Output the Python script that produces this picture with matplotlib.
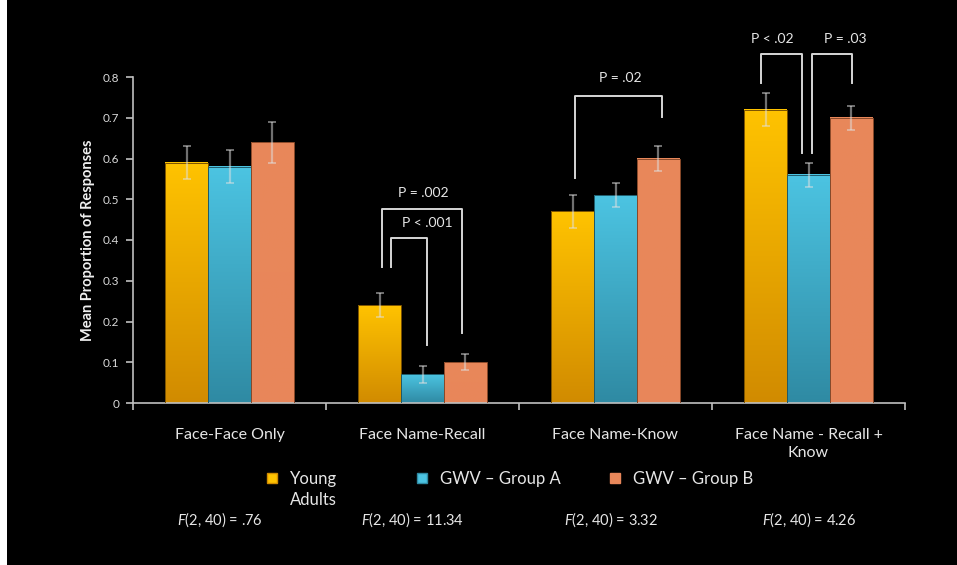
import numpy as np
import matplotlib
matplotlib.use("Agg")
import matplotlib.pyplot as plt
from matplotlib.colors import LinearSegmentedColormap
from matplotlib.patches import Patch, Rectangle

plt.rcParams['font.family'] = ['Lato', 'DejaVu Sans']
plt.rcParams['mathtext.fontset'] = 'custom'
plt.rcParams['mathtext.rm'] = 'Lato'
plt.rcParams['mathtext.it'] = 'Lato:italic'

# ---- data ----
categories = ["Face-Face Only", "Face Name-Recall", "Face Name-Know", "Face Name - Recall +\nKnow"]
series_names = ["Young", "GWV \u2013 Group A", "GWV \u2013 Group B"]
series_name_cont = "Adults"
young = [0.59, 0.24, 0.47, 0.72]
young_err = [0.04, 0.03, 0.04, 0.04]
group_a = [0.58, 0.07, 0.51, 0.56]
group_a_err = [0.04, 0.02, 0.03, 0.03]
group_b = [0.64, 0.10, 0.60, 0.70]
group_b_err = [0.05, 0.02, 0.03, 0.03]
f_stats = ["$\\mathit{F}$(2, 40) = .76", "$\\mathit{F}$(2, 40) = 11.34",
           "$\\mathit{F}$(2, 40) = 3.32", "$\\mathit{F}$(2, 40) = 4.26"]
yticks = [0, 0.1, 0.2, 0.3, 0.4, 0.5, 0.6, 0.7, 0.8]
ytick_labels = ["0", "0.1", "0.2", "0.3", "0.4", "0.5", "0.6", "0.7", "0.8"]

# significance brackets: (x_left, y_left_end, x_right, y_right_end, y_top, label, label_x, label_y)
brackets = [
    (0.790, 0.334, 1.205, 0.172, 0.476, "P = .002", 1.002, 0.515),
    (0.837, 0.334, 1.023, 0.142, 0.405, "P < .001", 1.023, 0.442),
    (1.790, 0.552, 2.241, 0.702, 0.753, "P = .02", 2.023, 0.797),
    (2.754, 0.785, 2.966, 0.613, 0.856, "P < .02", 2.811, 0.893),
    (3.018, 0.613, 3.225, 0.785, 0.856, "P = .03", 3.189, 0.893),
]

top_colors = ["#FFC300", "#4CC4E2", "#E9885A"]
bot_colors = ["#D18B00", "#2F8AA3", "#E8865A"]
edge_colors = ["#7a5200", "#1f5b6b", "#8a4a2a"]

W, H = 957, 565
fig = plt.figure(figsize=(W / 100, H / 100), dpi=100, facecolor="black")
fig.patches.append(Rectangle((0, 0), 7 / W, 1, transform=fig.transFigure,
                             facecolor="white", edgecolor="none", zorder=10))

ax = fig.add_axes([133 / W, 1 - 403 / H, (905 - 133) / W, (403 - 77) / H])
ax.set_facecolor("black")

x = np.arange(len(categories))
bw = 0.222
all_vals = [young, group_a, group_b]
all_errs = [young_err, group_a_err, group_b_err]
offsets = [-bw, 0, bw]

grad = np.linspace(1, 0, 256).reshape(-1, 1)
for i, (vals, errs) in enumerate(zip(all_vals, all_errs)):
    bars = ax.bar(x + offsets[i], vals, bw, facecolor="none",
                  edgecolor=edge_colors[i], linewidth=0.7, zorder=3)
    cmap = LinearSegmentedColormap.from_list("g%d" % i, [bot_colors[i], top_colors[i]])
    for b in bars:
        ax.imshow(grad, extent=[b.get_x(), b.get_x() + b.get_width(), 0, b.get_height()],
                  cmap=cmap, vmin=0, vmax=1, aspect="auto", zorder=2, interpolation="bilinear")
    ax.errorbar(x + offsets[i], vals, yerr=errs, fmt="none",
                ecolor=(0.88, 0.88, 0.88, 0.5), elinewidth=1.6, capsize=3, capthick=1.4, zorder=4)

ax.set_xlim(-0.5, len(categories) - 0.5)
ax.set_ylim(0, 0.8)

lc = "#d6d6d6"
for (xl, yl, xr, yr, yt, lab, lx, ly) in brackets:
    ax.plot([xl, xl, xr, xr], [yl, yt, yt, yr], color=lc, lw=1.4, clip_on=False, zorder=5)
    ax.text(lx, ly, lab, color="#e6e6e6", fontsize=10, ha="center", va="center", clip_on=False)

for s in ["top", "right"]:
    ax.spines[s].set_visible(False)
for s in ["left", "bottom"]:
    ax.spines[s].set_color("#bfbfbf")
    ax.spines[s].set_linewidth(1.2)

ax.set_yticks(yticks)
ax.set_yticklabels(ytick_labels)
ax.set_xticks(np.arange(-0.5, len(categories), 1.0))
ax.set_xticklabels([])
ax.set_xticks(x, minor=True)
ax.set_xticklabels(categories, minor=True)
ax.tick_params(axis="x", which="major", direction="out", length=5, color="#bfbfbf", width=1.2)
ax.tick_params(axis="x", which="minor", length=0, pad=18, labelsize=11.5, labelcolor="#e6e6e6")
ax.tick_params(axis="y", direction="out", length=5, color="#bfbfbf", width=1.2,
               labelsize=8.5, labelcolor="#d9d9d9", pad=5)
for t in ax.get_xticklabels(minor=True):
    t.set_linespacing(1.35)

ax.set_ylabel("Mean Proportion of Responses", color="#f0f0f0", fontsize=10.5, fontweight="bold")
ax.yaxis.set_label_coords(-0.049, 0.5)

# legend entries
leg_pos = [(267 / W, 1 - 471 / H), (417 / W, 1 - 471 / H), (610 / W, 1 - 471 / H)]
leg0 = None
for i, name in enumerate(series_names):
    lg = fig.legend(handles=[Patch(facecolor=top_colors[i], edgecolor=bot_colors[i])],
                    labels=[name], loc="upper left", bbox_to_anchor=leg_pos[i],
                    frameon=False, fontsize=12, handlelength=0.6, handleheight=0.6,
                    handletextpad=0.8, borderpad=0, borderaxespad=0, labelcolor="#e6e6e6")
    if i == 0:
        leg0 = lg

# second line of the first legend label, aligned with "Young"
fig.canvas.draw()
young_bb = leg0.get_texts()[0].get_window_extent()
fig.text(young_bb.x0 / W, 1 - 500 / H, series_name_cont, color="#e6e6e6", fontsize=12,
         ha="left", va="center")

f_x = [177, 361, 564, 762]
for fx, s in zip(f_x, f_stats):
    fig.text(fx / W, 1 - 520 / H, s, color="#e6e6e6", fontsize=10.5, ha="left", va="center")

fig.savefig("out.png", dpi=100, facecolor="black")
